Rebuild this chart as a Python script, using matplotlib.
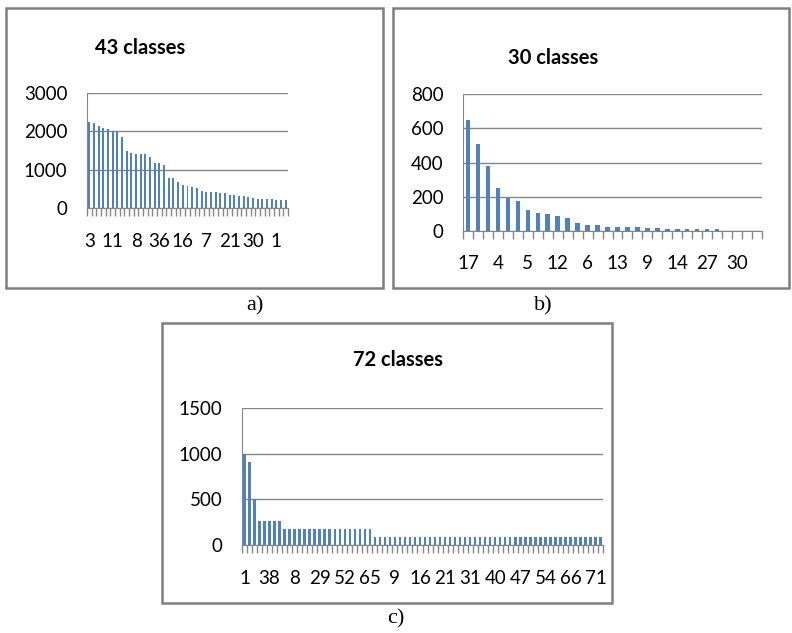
import matplotlib
matplotlib.use("Agg")
import matplotlib.pyplot as plt
from matplotlib.patches import Rectangle

# bar heights
counts_a = [2250, 2220, 2150, 2080, 2050, 2000, 2000, 1850, 1480, 1440,
            1420, 1420, 1420, 1320, 1180, 1180, 1110, 780, 780, 680,
            610, 570, 550, 510, 440, 410, 410, 410, 380, 380,
            350, 350, 310, 310, 280, 270, 240, 240, 240, 240,
            210, 210, 210]
labels_a = ["3", "11", "8", "36", "16", "7", "21", "30", "1"]

counts_b = [650, 510, 380, 250, 195, 175, 125, 108, 100, 85,
            78, 48, 33, 33, 25, 25, 25, 25, 18, 18,
            12, 12, 12, 12, 12, 10, 0, 0, 0, 0]
labels_b = ["17", "4", "5", "12", "6", "13", "9", "14", "27", "30"]

counts_c = ([1000, 910, 500] + [260] * 5 + [180] * 18 + [90] * 46)
labels_c = ["1", "38", "8", "29", "52", "65", "9", "16", "21", "31",
            "40", "47", "54", "66", "71"]

W, H = 792, 633
BLUE = "#4F81BD"
GRID = "#868686"
FRAME = "#7F7F7F"
TICKFONT = "Lato"

fig = plt.figure(figsize=(W / 100, H / 100), dpi=100)


def px_axes(x0, y0, x1, y1):
    # pixel box (top-left origin) -> figure axes
    return fig.add_axes([x0 / W, 1 - y1 / H, (x1 - x0) / W, (y1 - y0) / H])


def frame(x0, y0, x1, y1):
    fig.patches.append(Rectangle((x0 / W, 1 - y1 / H), (x1 - x0) / W, (y1 - y0) / H,
                                 transform=fig.transFigure, fill=False,
                                 edgecolor=FRAME, linewidth=1.8))


def panel(ax, vals, labels, step, ymax, ystep, width, xpad):
    n = len(vals)
    ax.bar(range(n), vals, width=width, color=BLUE, zorder=3)
    ax.set_xlim(-0.5, n - 0.5)
    ax.set_ylim(0, ymax)
    ax.set_yticks(range(0, ymax + 1, ystep))
    ax.yaxis.grid(True, color=GRID, linewidth=1.0, zorder=0)
    ax.set_xticks(range(0, n, step))
    ax.set_xticklabels(labels)
    ax.set_xticks([i - 0.5 for i in range(n + 1)], minor=True)
    ax.tick_params(axis="x", which="major", length=0, pad=xpad, labelsize=13.5)
    ax.tick_params(axis="x", which="minor", length=6, color=GRID, width=1.0)
    ax.tick_params(axis="y", length=0, pad=14, labelsize=13.5)
    for t in ax.get_xticklabels() + ax.get_yticklabels():
        t.set_family(TICKFONT)
    for s in ["top", "right"]:
        ax.spines[s].set_visible(False)
    ax.spines["left"].set_color(GRID)
    ax.spines["bottom"].set_color(GRID)
    ax.set_facecolor("none")


# outer boxes
frame(6, 8, 383, 288)
frame(393, 8, 789, 288)
frame(162, 323, 612, 603)

ax_a = px_axes(87, 93, 288, 208)
panel(ax_a, counts_a, labels_a, 5, 3000, 1000, 0.42, 18)
ax_b = px_axes(463, 94, 762, 231)
panel(ax_b, counts_b, labels_b, 3, 800, 200, 0.45, 17)
ax_c = px_axes(242, 408, 603, 545)
panel(ax_c, counts_c, labels_c, 5, 1500, 500, 0.5, 18)

fig.text(140 / W, 1 - 48 / H, "43 classes", ha="center", va="center",
         fontsize=14.5, fontweight="bold", family=TICKFONT)
fig.text(553 / W, 1 - 58 / H, "30 classes", ha="center", va="center",
         fontsize=14.5, fontweight="bold", family=TICKFONT)
fig.text(398 / W, 1 - 360 / H, "72 classes", ha="center", va="center",
         fontsize=14.5, fontweight="bold", family=TICKFONT)

fig.text(255 / W, 1 - 306 / H, "a)", ha="center", va="center",
         fontsize=16, family="Liberation Serif")
fig.text(543 / W, 1 - 306 / H, "b)", ha="center", va="center",
         fontsize=16, family="Liberation Serif")
fig.text(396 / W, 1 - 619 / H, "c)", ha="center", va="center",
         fontsize=16, family="Liberation Serif")

fig.savefig("out.png", dpi=100)
